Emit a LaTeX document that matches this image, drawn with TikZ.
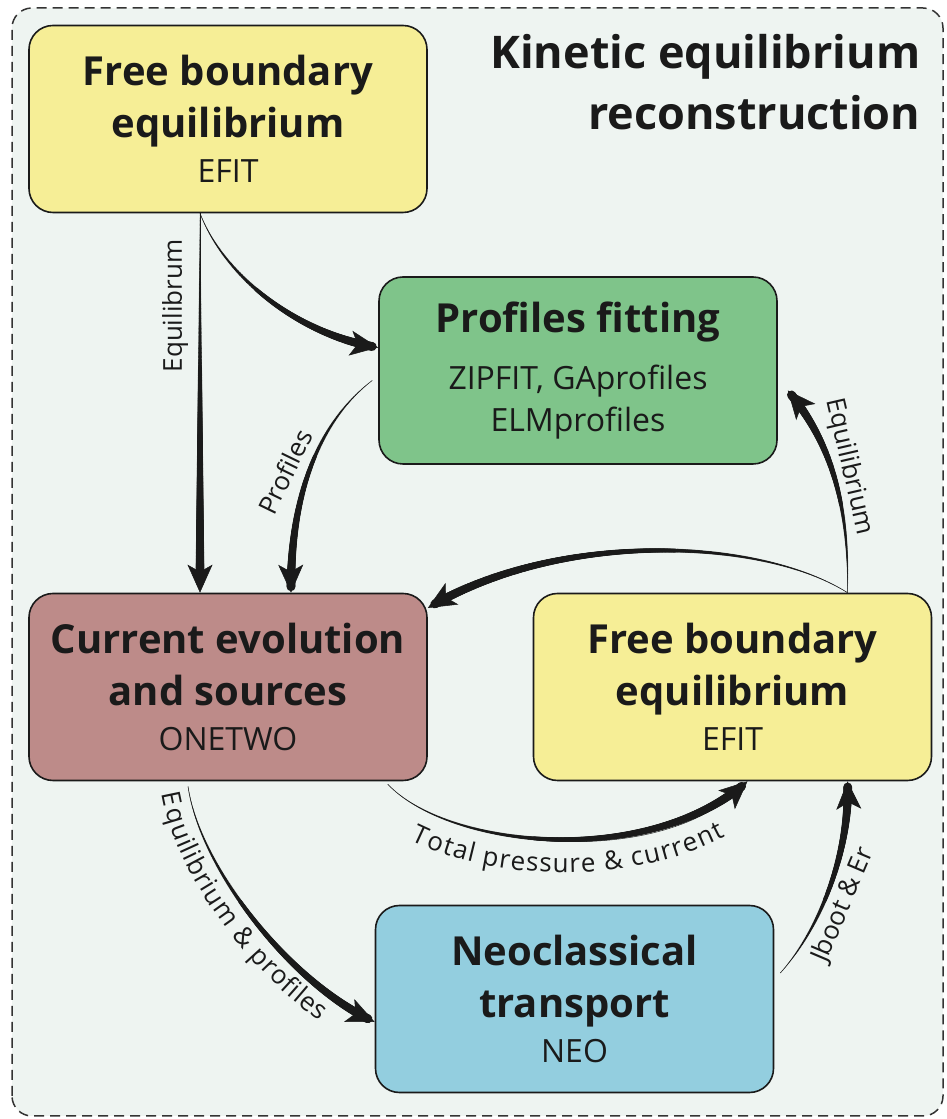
\documentclass[tikz,border=0pt]{standalone}
\usepackage{fontspec}
\setmainfont{Open Sans}
\usetikzlibrary{arrows.meta, decorations.markings, decorations.text}

\definecolor{bgc}{HTML}{EEF4F1}
\definecolor{efitc}{HTML}{F6EE96}
\definecolor{fitc}{HTML}{7FC48A}
\definecolor{onetwoc}{HTML}{BD8B89}
\definecolor{neoc}{HTML}{93CEDF}
\definecolor{inkc}{HTML}{1A1A1A}

\newcommand{\ttlfont}{\fontsize{40}{52}\selectfont\bfseries}
\newcommand{\subfont}{\fontsize{32}{42}\selectfont\mdseries}
\newcommand{\lblfont}{\fontsize{26}{30}\selectfont}

\tikzset{
  box/.style={draw=inkc, line width=1.6pt, rounded corners=24pt, minimum width=398pt,
    minimum height=187pt, align=center, font=\ttlfont, text=inkc},
  lbl/.style={font=\lblfont, text=inkc, inner sep=0pt},
  taper/.style={postaction={decorate, decoration={markings,
    mark=between positions 0 and 0.97 step 0.8pt with {%
      \pgfmathsetmacro\tw{0.2+4.4*\pgfkeysvalueof{/pgf/decoration/mark info/distance from start}/\pgfdecoratedpathlength}%
      \fill[inkc] (0,0) circle (\tw pt);}}}},
  flow/.style={taper, draw=inkc, line width=0.5pt, -{Stealth[length=28pt, width=25pt, inset=7pt]}},
}

\begin{document}
\begin{tikzpicture}[x=1pt, y=1pt]
\useasboundingbox (0,0) rectangle (946,1119);
\draw[draw=black!80, fill=bgc, line width=1.5pt, dash pattern=on 10pt off 6pt, rounded corners=20pt] (12,3) rectangle (943,1111);

\node[anchor=east, align=right, font=\fontsize{45}{61}\selectfont\bfseries, text=inkc] (title) at (924,1037) {Kinetic equilibrium\\reconstruction};

% boxes
\node[box, fill=efitc] (efitA) at (228,1000) {Free boundary\\equilibrium\\[-7pt]{\subfont EFIT}};
\node[box, fill=fitc] (fit) at (578,748.5) {Profiles fitting\\[5pt]{\subfont ZIPFIT, GAprofiles}\\[-10pt]{\subfont ELMprofiles}};
\node[box, fill=onetwoc] (onetwo) at (228,432) {Current evolution\\and sources\\[-7pt]{\subfont ONETWO}};
\node[box, fill=efitc] (efitB) at (732.5,432) {Free boundary\\equilibrium\\[-7pt]{\subfont EFIT}};
\node[box, fill=neoc] (neo) at (574.5,120) {Neoclassical\\transport\\[-7pt]{\subfont NEO}};

% arrows
\draw[flow] ([xshift=-28pt]efitA.south) -- ([xshift=-28pt]onetwo.north);
\draw[flow] ([xshift=-28pt]efitA.south) .. controls +(25,-65) and +(-77,12) .. ([yshift=23pt]fit.west);
\draw[flow] ([shift={(-6,-10)}]fit.west) .. controls +(-52,-40) and +(-1,100) .. ([xshift=63pt]onetwo.north);
\coordinate (split) at ([xshift=115pt]efitB.north);
\draw[flow] (split) .. controls +(-87,55) and +(132,78) .. ([yshift=79pt]onetwo.east);
\draw[flow] (split) .. controls +(2,90) and +(42,-50) .. ([shift={(10,-20)}]fit.east);
\draw[flow, postaction={decorate, decoration={text along path, text={|\lblfont|Total pressure {\&} current},
    text align=center, raise=-33pt, text color=inkc}}]
  ([shift={(-40,-3)}]onetwo.south east) .. controls +(62,-65) and +(-97,-86) .. ([xshift=15pt]efitB.south);
\draw[flow, postaction={decorate, decoration={text along path, text={|\lblfont|Equilibrium {\&} profiles},
    text align={left indent=2pt}, raise=-27pt, text color=inkc}}]
  ([shift={(-40,-5)}]onetwo.south) .. controls +(12,-83) and +(-82,37) .. ([yshift=-23pt]neo.west);
\draw[flow] ([shift={(6,26)}]neo.east) .. controls +(43,48) and +(3,-65) .. ([xshift=115pt]efitB.south);

% labels
\node[lbl, rotate=90] (eqAlbl) at (175,813) {Equilibrum};
\node[lbl, rotate=64] (proflbl) at (285,647) {Profiles};
\node[lbl, rotate=-77] (eqBlbl) at (849,652) {Equilibrium};
\node[lbl, rotate=67] (jbootlbl) at (843,214) {Jboot \& Er};
\end{tikzpicture}
\end{document}
